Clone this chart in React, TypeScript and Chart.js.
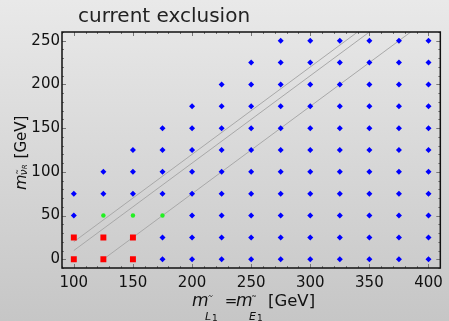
import React, { useEffect, useRef } from "react";
import { Chart, registerables } from "chart.js";
Chart.register(...registerables);

// ---- data ----
const xTickValues = [100, 150, 200, 250, 300, 350, 400];
const yTickValues = [0, 50, 100, 150, 200, 250];

const redPoints: [number, number][] = [
  [100, 0], [100, 25], [125, 0], [125, 25], [150, 0], [150, 25],
];
const greenPoints: [number, number][] = [[125, 50], [150, 50], [175, 50]];

// blue points per column: [slepton mass, list of sneutrino masses]
const blueColumns: [number, number[]][] = [
  [100, [50, 75]],
  [125, [75, 100]],
  [150, [75, 100, 125]],
  [175, [0, 25, 75, 100, 125, 150]],
  [200, [0, 25, 50, 75, 100, 125, 150, 175]],
  [225, [0, 25, 50, 75, 100, 125, 150, 175, 200]],
  [250, [0, 25, 50, 75, 100, 125, 150, 175, 200, 225]],
  [275, [0, 25, 50, 75, 100, 125, 150, 175, 200, 225, 250]],
  [300, [0, 25, 50, 75, 100, 125, 150, 175, 200, 225, 250]],
  [325, [0, 25, 50, 75, 100, 125, 150, 175, 200, 225, 250]],
  [350, [0, 25, 50, 75, 100, 125, 150, 175, 200, 225, 250]],
  [375, [0, 25, 50, 75, 100, 125, 150, 175, 200, 225, 250]],
  [400, [0, 25, 50, 75, 100, 125, 150, 175, 200, 225, 250]],
];

const line1: [number, number][] = [[100, 20], [340, 260]];
const line2: [number, number][] = [[100, 10], [350, 260]];
const line3: [number, number][] = [[125, 0], [385, 260]];

const toXY = (a: [number, number][]) => a.map(([x, y]) => ({ x, y }));

const FONT = "DejaVu Sans";

const decorPlugin = {
  id: "decor",
  afterDraw(chart: any) {
    const { ctx, chartArea, scales } = chart;
    const { left, right, top, bottom } = chartArea;
    const xs = scales.x;
    const ys = scales.y;
    ctx.save();
    // ticks
    ctx.strokeStyle = "#777";
    ctx.lineWidth = 1;
    for (let v = 90; v <= 410; v += 10) {
      const px = Math.round(xs.getPixelForValue(v)) + 0.5;
      const len = v % 50 === 0 ? 4 : 2;
      ctx.beginPath();
      ctx.moveTo(px, bottom); ctx.lineTo(px, bottom - len);
      ctx.moveTo(px, top); ctx.lineTo(px, top + len);
      ctx.stroke();
    }
    for (let v = -10; v <= 260; v += 10) {
      const py = Math.round(ys.getPixelForValue(v)) + 0.5;
      const len = v % 50 === 0 ? 4 : 2;
      ctx.beginPath();
      ctx.moveTo(left, py); ctx.lineTo(left + len, py);
      ctx.moveTo(right, py); ctx.lineTo(right - len, py);
      ctx.stroke();
    }
    // frame
    ctx.strokeStyle = "#111";
    ctx.lineWidth = 1.5;
    ctx.strokeRect(left, top, right - left, bottom - top);

    // title
    ctx.fillStyle = "#222";
    ctx.font = `20px ${FONT}`;
    ctx.textBaseline = "alphabetic";
    ctx.textAlign = "left";
    ctx.fillText("current exclusion", 78, 22);

    const drawTilde = (cx: number, cy: number, w: number) => {
      ctx.save();
      ctx.strokeStyle = "#222";
      ctx.lineWidth = 0.9;
      ctx.beginPath();
      ctx.moveTo(cx - w / 2, cy + 0.5);
      ctx.quadraticCurveTo(cx - w / 4, cy - 1.2, cx, cy);
      ctx.quadraticCurveTo(cx + w / 4, cy + 1.2, cx + w / 2, cy - 0.5);
      ctx.stroke();
      ctx.restore();
    };

    // x axis title
    ctx.fillStyle = "#111";
    const base = 306;
    ctx.font = `italic 17px ${FONT}`;
    ctx.fillText("m", 192, base);
    ctx.font = `italic 11px ${FONT}`;
    ctx.fillText("L", 205, 320);
    drawTilde(210.5, 296, 4);
    ctx.font = `9px ${FONT}`;
    ctx.fillText("1", 212, 321);
    ctx.font = `15px ${FONT}`;
    ctx.textAlign = "center";
    ctx.fillText("=", 231, base);
    ctx.textAlign = "left";
    ctx.font = `italic 17px ${FONT}`;
    ctx.fillText("m", 236, base);
    ctx.font = `italic 11px ${FONT}`;
    ctx.fillText("E", 249, 320);
    drawTilde(254, 296, 4);
    ctx.font = `9px ${FONT}`;
    ctx.fillText("1", 257, 321);
    ctx.font = `16.5px ${FONT}`;
    ctx.fillText("[GeV]", 268, base);

    // y axis title (rotated)
    ctx.save();
    ctx.translate(26, 190);
    ctx.rotate(-Math.PI / 2);
    let u = 0;
    ctx.font = `italic 16px ${FONT}`;
    ctx.fillText("m", u, 0);
    u += ctx.measureText("m").width - 1;
    ctx.font = `italic 11px ${FONT}`;
    ctx.fillText("ν", u, 1);
    drawTilde(u + 3.5, -9, 4);
    u += ctx.measureText("ν").width;
    ctx.font = `italic 7px ${FONT}`;
    ctx.fillText("R", u, 1);
    u += ctx.measureText("R").width + 6;
    ctx.font = `15px ${FONT}`;
    ctx.fillText("[GeV]", u, 0);
    ctx.restore();

    ctx.restore();
  },
};

export default function App() {
  const ref = useRef<HTMLCanvasElement>(null);
  useEffect(() => {
    if (!ref.current) return;
    const bluePoints = blueColumns.flatMap(([x, ys]) => ys.map((y) => ({ x, y })));
    const lineStyle = {
      type: "line" as const,
      borderColor: "#a8a8a8",
      borderWidth: 1,
      pointRadius: 0,
      fill: false,
      order: 10,
    };
    const chart = new Chart(ref.current, {
      type: "scatter",
      data: {
        datasets: [
          { ...lineStyle, data: toXY(line1) },
          { ...lineStyle, data: toXY(line2) },
          { ...lineStyle, data: toXY(line3) },
          {
            data: bluePoints,
            pointStyle: "rectRot",
            pointRadius: 3,
            backgroundColor: "#0000ff",
            borderWidth: 0,
            order: 1,
          },
          {
            data: toXY(greenPoints),
            pointStyle: "circle",
            pointRadius: 2.2,
            backgroundColor: "#22f022",
            borderWidth: 0,
            order: 1,
          },
          {
            data: toXY(redPoints),
            pointStyle: "rect",
            pointRadius: 4.2,
            backgroundColor: "#ff0000",
            borderWidth: 0,
            order: 1,
          },
        ] as any,
      },
      options: {
        animation: false,
        responsive: false,
        layout: { padding: { top: 32, right: 6, left: 0, bottom: 0 } },
        plugins: { legend: { display: false }, tooltip: { enabled: false }, title: { display: false } },
        scales: {
          x: {
            type: "linear",
            min: 90,
            max: 410,
            grid: { display: false, drawTicks: false },
            border: { display: false },
            afterBuildTicks: (s: any) => {
              s.ticks = xTickValues.map((v) => ({ value: v }));
            },
            afterFit: (s: any) => {
              s.height = 53;
            },
            ticks: {
              padding: 6,
              color: "#111",
              font: { family: FONT, size: 15 },
              maxRotation: 0,
              autoSkip: false,
            },
          },
          y: {
            type: "linear",
            min: -10,
            max: 260,
            grid: { display: false, drawTicks: false },
            border: { display: false },
            afterBuildTicks: (s: any) => {
              s.ticks = yTickValues.map((v) => ({ value: v }));
            },
            afterFit: (s: any) => {
              s.width = 62;
            },
            ticks: {
              padding: 2,
              color: "#111",
              font: { family: FONT, size: 15 },
              autoSkip: false,
            },
          },
        },
      },
      plugins: [decorPlugin],
    });
    return () => chart.destroy();
  }, []);
  return (
    <div
      style={{
        position: "fixed",
        left: 0,
        top: 0,
        width: 449,
        height: 321,
        background: "linear-gradient(#e9e9e9, #c6c6c6)",
      }}
    >
      <canvas ref={ref} width={449} height={321} style={{ display: "block", width: 449, height: 321 }} />
    </div>
  );
}
